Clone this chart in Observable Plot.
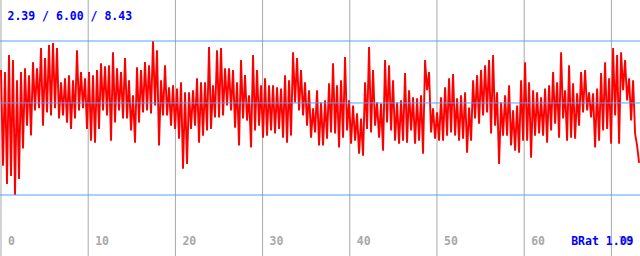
<!DOCTYPE html>
<html>
<head>
<meta charset="utf-8">
<script src="https://cdn.jsdelivr.net/npm/d3@7"></script>
<script src="https://cdn.jsdelivr.net/npm/@observablehq/plot@0.6"></script>
<style>
  html, body { margin: 0; padding: 0; background: #fff; }
  svg { display: block; }
</style>
</head>
<body>
<div id="chart"></div>
<script>
// Summary values (min / average / max) shown at top-left and as horizontal guides
const summary = [2.39, 6.00, 8.43];
const headerText = "2.39 / 6.00 / 8.43";
const ratioText = "BRat 1.09";

// X tick labels (time)
const xTicks = [0, 10, 20, 30, 40, 50, 60, 70];

// Sample interval (time units per sample)
const dt = 0.2294;

// Signal samples (alternating local highs / lows)
const signal = [
  7.29,3.54, 7.21,2.82, 7.88,3.14, 7.68,2.39, 6.89,3.02, 7.21,4.21, 7.36,5.11, 7.09,4.72, 7.60,5.71,
  7.36,5.79, 8.15,5.11, 7.76,5.63, 8.27,5.51, 8.35,5.79, 8.15,5.39, 6.81,5.51, 6.97,5.23, 7.09,4.98,
  6.89,5.39, 8.07,5.71, 7.21,5.79, 6.97,4.98, 7.21,4.52, 7.09,4.44, 7.29,4.98, 7.56,5.71, 7.44,5.51,
  7.48,4.52, 7.99,5.23, 7.36,5.71, 7.21,5.39, 7.76,5.39, 6.89,4.92, 6.30,4.44, 7.40,5.23, 7.29,5.63,
  7.60,5.71, 7.48,5.59, 8.43,5.90, 8.07,4.33, 6.89,5.51, 7.48,5.51, 6.61,5.11, 6.69,4.98, 6.57,4.60,
  6.81,3.42, 6.42,3.61, 6.42,4.98, 6.50,5.11, 6.97,4.44, 6.81,4.72, 6.81,4.92, 8.19,4.98, 6.69,5.43,
  8.07,5.43, 8.15,5.51, 7.36,5.90, 7.36,5.71, 7.29,5.03, 6.81,4.33, 7.68,5.39, 7.09,5.31, 6.30,4.25,
  7.88,4.92, 7.29,5.11, 6.69,4.64, 6.97,4.72, 6.69,4.92, 6.69,4.80, 6.61,4.98, 6.57,4.64, 7.09,4.44,
  6.89,4.72, 7.99,6.02, 7.76,5.71, 7.29,5.51, 6.81,5.11, 6.50,4.64, 5.79,4.84, 6.50,4.33,
  6.02,4.33, 6.10,4.60, 6.77,4.84, 7.56,4.80, 6.69,4.25, 6.89,4.64, 7.80,4.92, 6.10,4.40, 5.90,4.52,
  5.59,4.01, 5.39,3.93, 6.81,4.98, 8.19,4.84, 7.29,5.11, 6.02,4.64, 5.98,4.13, 7.68,5.23, 7.48,4.92,
  6.89,4.52, 6.02,4.40, 6.10,4.52, 7.17,4.44, 6.50,4.92, 6.22,4.40, 6.18,4.52, 6.30,4.01, 7.68,6.50,
  7.21,4.84, 5.79,4.60, 5.63,4.52, 6.22,4.52, 6.61,4.72, 6.97,4.84, 7.13,4.72, 6.18,4.52, 6.30,4.60,
  6.42,4.05, 5.82,4.52, 6.89,5.39, 7.09,5.19, 7.29,5.51, 7.48,5.63, 7.68,4.80, 7.88,5.11, 6.42,3.61,
  6.02,4.72, 6.30,4.72, 6.69,4.33, 5.71,4.13, 5.90,4.05, 6.89,4.52, 7.60,4.52, 6.81,3.85, 6.50,4.72,
  6.42,4.80, 6.22,4.72, 6.57,4.44, 6.69,4.92, 7.21,5.19, 6.81,4.64, 7.99,5.39, 6.50,4.52, 7.48,4.64,
  6.77,4.60, 6.38,5.11, 7.21,5.63, 7.29,5.71, 6.42,5.43, 6.38,4.25, 6.57,4.52, 7.17,4.92, 7.60,4.98,
  6.97,4.40, 8.15,5.51, 7.88,4.40, 7.99,6.50, 7.68,6.10, 6.97,5.31, 6.89,4.80, 4.33,3.65
];

const mono = "'DejaVu Sans Mono', 'Liberation Mono', monospace";

const chart = Plot.plot({
  width: 640,
  height: 256,
  marginTop: 0, marginRight: 0, marginBottom: 0, marginLeft: 0,
  style: { background: "#ffffff", fontFamily: mono },
  x: { domain: [0, 73.34], range: [0.5, 640], axis: null },
  y: { domain: [summary[0], summary[2]], range: [194.5, 40.5], axis: null },
  marks: [
    Plot.ruleX(xTicks, { stroke: "#a8a8a8", strokeWidth: 1 }),
    Plot.line(signal, {
      x: (d, i) => i * dt,
      y: d => d,
      stroke: "#ff0000",
      strokeWidth: 1.9,
      strokeLinejoin: "miter",
      strokeLinecap: "butt",
      curve: "linear"
    }),
    Plot.ruleY(summary, { stroke: "#55a0ff", strokeWidth: 1 }),
    Plot.text(xTicks, {
      x: d => d,
      text: d => String(d),
      frameAnchor: "bottom",
      textAnchor: "start",
      lineAnchor: "top",
      dx: 7,
      dy: -19.2,
      fill: "#a8a8a8",
      fontSize: 11.5,
      fontWeight: "bold",
      fontFamily: mono
    }),
    Plot.text([headerText], {
      text: d => d,
      frameAnchor: "top-left",
      textAnchor: "start",
      lineAnchor: "top",
      dx: 7,
      dy: 11,
      fill: "#0000ff",
      fontSize: 11.5,
      fontWeight: "bold",
      fontFamily: mono
    }),
    Plot.text([ratioText], {
      text: d => d,
      frameAnchor: "bottom-right",
      textAnchor: "end",
      lineAnchor: "top",
      dx: -7,
      dy: -19.2,
      fill: "#0000ff",
      fontSize: 11.5,
      fontWeight: "bold",
      fontFamily: mono
    })
  ]
});
document.getElementById("chart").appendChild(chart);
</script>
</body>
</html>
